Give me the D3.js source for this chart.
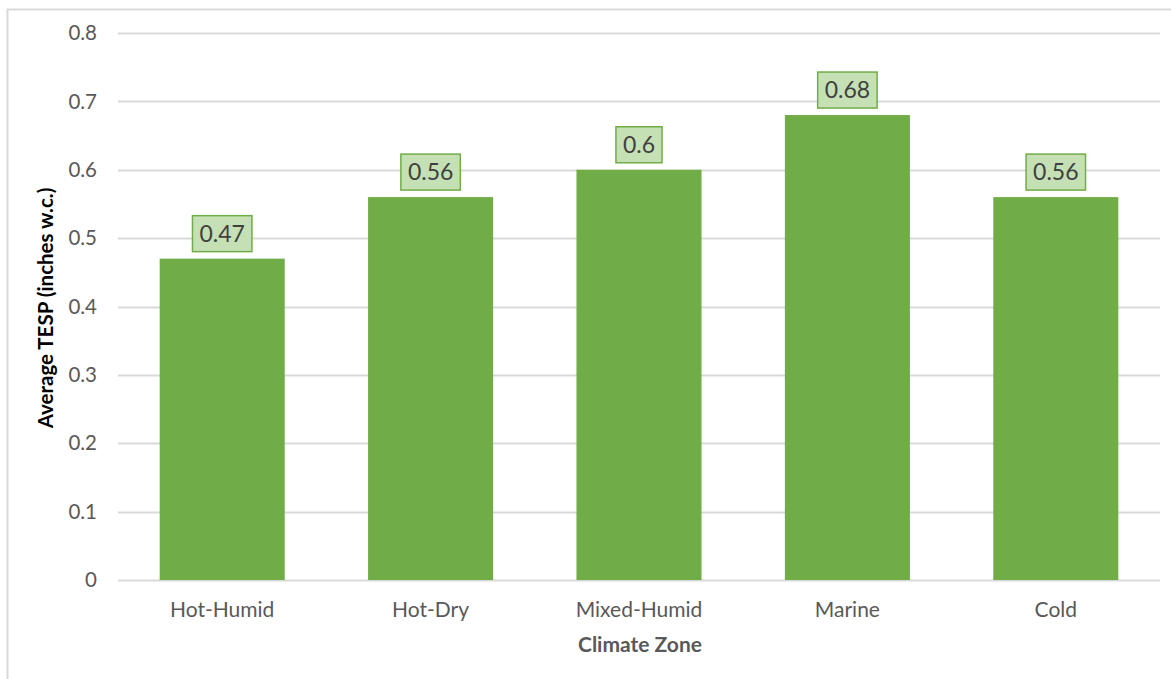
<!DOCTYPE html>
<html>
<head>
<meta charset="utf-8">
<script src="https://cdn.jsdelivr.net/npm/d3@7"></script>
<style>
  body { margin: 0; background: #fff; }
  svg { display: block; font-family: Lato, "Open Sans", sans-serif; }
</style>
</head>
<body>
<svg width="1171" height="679"></svg>
<script>
const zones = ["Hot-Humid", "Hot-Dry", "Mixed-Humid", "Marine", "Cold"];
const tesp = [0.47, 0.56, 0.6, 0.68, 0.56];
const yTicks = [0, 0.1, 0.2, 0.3, 0.4, 0.5, 0.6, 0.7, 0.8];

const svg = d3.select("svg");

// chart border
svg.append("rect")
  .attr("x", 7.5).attr("y", 9.5)
  .attr("width", 1180).attr("height", 690)
  .attr("fill", "none")
  .attr("stroke", "#d9d9d9")
  .attr("stroke-width", 2);

const x = d3.scaleBand()
  .domain(zones)
  .range([118, 1160])
  .paddingInner(0.4)
  .paddingOuter(0.2);

const y = d3.scaleLinear()
  .domain([0, 0.8])
  .range([580, 33]);

// gridlines
svg.append("g")
  .selectAll("line")
  .data(yTicks)
  .join("line")
    .attr("x1", 118)
    .attr("x2", 1160)
    .attr("y1", d => Math.round(y(d)) + 0.5)
    .attr("y2", d => Math.round(y(d)) + 0.5)
    .attr("stroke", "#d9d9d9")
    .attr("stroke-width", 2);

// y tick labels
svg.append("g")
  .selectAll("text")
  .data(yTicks)
  .join("text")
    .attr("x", 97)
    .attr("y", d => y(d))
    .attr("dy", "0.35em")
    .attr("text-anchor", "end")
    .attr("font-size", 20.5)
    .attr("fill", "#595959")
    .text(d => d3.format("")(d));

// bars
svg.append("g")
  .selectAll("rect")
  .data(zones)
  .join("rect")
    .attr("x", d => x(d))
    .attr("width", x.bandwidth())
    .attr("y", (d, i) => y(tesp[i]))
    .attr("height", (d, i) => y(0) - y(tesp[i]))
    .attr("fill", "#70ad47");

// category labels
svg.append("g")
  .selectAll("text")
  .data(zones)
  .join("text")
    .attr("x", d => x(d) + x.bandwidth() / 2)
    .attr("y", 617)
    .attr("text-anchor", "middle")
    .attr("font-size", 21)
    .attr("fill", "#595959")
    .text(d => d);

// data labels with boxes
const labels = svg.append("g")
  .selectAll("g")
  .data(zones)
  .join("g")
    .attr("transform", (d, i) =>
      "translate(" + (x(d) + x.bandwidth() / 2) + "," + (y(tesp[i]) - 25) + ")");

labels.append("rect")
  .attr("fill", "#c5e0b4")
  .attr("stroke", "#70ad47")
  .attr("stroke-width", 1.5);

labels.append("text")
  .attr("text-anchor", "middle")
  .attr("dy", "0.35em")
  .attr("font-size", 23)
  .attr("fill", "#404040")
  .text((d, i) => tesp[i]);

labels.each(function() {
  const g = d3.select(this);
  const w = g.select("text").node().getComputedTextLength();
  g.select("rect")
    .attr("x", -w / 2 - 7)
    .attr("y", -18)
    .attr("width", w + 14)
    .attr("height", 36);
});

// axis titles
svg.append("text")
  .attr("transform", "translate(53,308) rotate(-90)")
  .attr("text-anchor", "middle")
  .attr("font-size", 20.5)
  .attr("font-weight", "bold")
  .attr("fill", "#000")
  .text("Average TESP (inches w.c.)");

svg.append("text")
  .attr("x", 640)
  .attr("y", 652)
  .attr("text-anchor", "middle")
  .attr("font-size", 21)
  .attr("font-weight", "bold")
  .attr("fill", "#595959")
  .text("Climate Zone");
</script>
</body>
</html>
